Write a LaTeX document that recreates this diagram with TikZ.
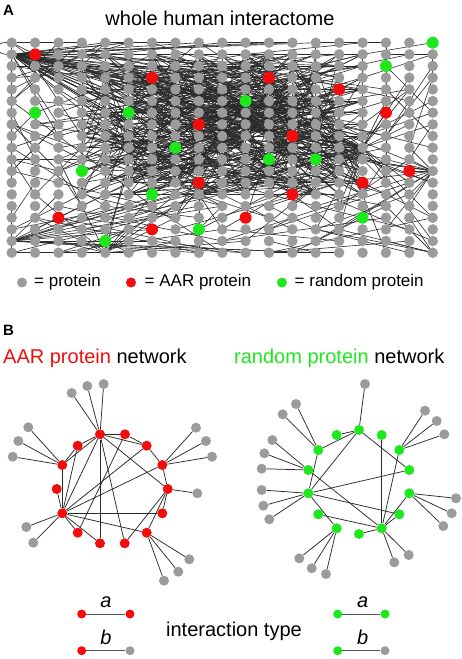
\documentclass[tikz,border=0pt]{standalone}
\usepackage{fontspec}
\setmainfont{Liberation Sans}
\usetikzlibrary{backgrounds}
\definecolor{cProt}{HTML}{9B9B9B}
\definecolor{cAAR}{HTML}{F20D0D}
\definecolor{cRand}{HTML}{1CE81C}
\definecolor{cEdge}{HTML}{2A2A2A}
\tikzset{
  node-prot/.style={circle,fill=cProt,inner sep=0pt,minimum size=10.5pt},
  node-aar/.style={circle,fill=cAAR,inner sep=0pt,minimum size=12pt},
  node-rand/.style={circle,fill=cRand,inner sep=0pt,minimum size=12pt},
  node-net/.style={circle,inner sep=0pt,minimum size=10pt},
  node-key/.style={circle,inner sep=0pt,minimum size=9pt},
  edge-ppi/.style={draw=cEdge,line width=0.6pt},
  edge-net/.style={draw=cEdge,line width=0.75pt},
  edge-key/.style={draw=cEdge!80,line width=0.9pt},
  label-big/.style={font=\fontsize{20}{24}\selectfont,inner sep=0pt},
  label-key/.style={font=\fontsize{17}{20}\selectfont,inner sep=0pt},
  label-panel/.style={font=\fontsize{15}{18}\selectfont\bfseries,inner sep=0pt},
}

\begin{document}
\begin{tikzpicture}[x=1pt,y=-1pt]
  \useasboundingbox (0,0) rectangle (461,659);

  % panel A: grid of the interactome
  \node[label-panel,anchor=base west] (labA) at (3,15) {A};
  \node[label-big,anchor=base] (titleA) at (220,25) {whole human interactome};
  \foreach \c in {0,...,18}
    \foreach \r in {0,...,18}
      \node[node-prot] (g-\c-\r) at ({11.7+23.39*\c},{42.7+11.667*\r}) {};
  \foreach \c/\r in {1/1,6/3,11/3,14/4,16/6,8/7,12/8,17/11,15/12,8/12,12/13,2/15,10/15,6/16}
    \node[node-aar] (aar-\c-\r) at (g-\c-\r) {};
  \foreach \c/\r in {18/0,16/2,10/5,1/6,5/6,7/9,11/10,13/10,3/11,6/13,15/15,8/16,4/17}
    \node[node-rand] (rnd-\c-\r) at (g-\c-\r) {};

  \pgfmathsetseed{4127}
  \begin{pgfonlayer}{background}
    % hubs
    \foreach \i in {1,...,52}{
      \pgfmathtruncatemacro{\cb}{random(2,16)}
      \pgfmathtruncatemacro{\rb}{random(0,9)}
      \draw[edge-ppi] (g-0-1.center) -- (g-\cb-\rb.center);
    }
    \foreach \i in {1,...,38}{
      \pgfmathtruncatemacro{\cb}{random(4,18)}
      \pgfmathtruncatemacro{\rb}{random(1,17)}
      \draw[edge-ppi] (g-15-9.center) -- (g-\cb-\rb.center);
    }
    \foreach \i in {1,...,14}{
      \pgfmathtruncatemacro{\cb}{random(11,17)}
      \pgfmathtruncatemacro{\rb}{random(4,18)}
      \draw[edge-ppi] (g-18-11.center) -- (g-\cb-\rb.center);
    }
    \foreach \i in {1,...,14}{
      \pgfmathtruncatemacro{\cb}{random(2,13)}
      \pgfmathtruncatemacro{\rb}{random(12,18)}
      \draw[edge-ppi] (g-0-17.center) -- (g-\cb-\rb.center);
    }
    \foreach \i in {1,...,12}{
      \pgfmathtruncatemacro{\cb}{random(1,11)}
      \pgfmathtruncatemacro{\rb}{random(9,17)}
      \draw[edge-ppi] (g-4-18.center) -- (g-\cb-\rb.center);
    }
    % dense core
    \foreach \i in {1,...,440}{
      \pgfmathtruncatemacro{\ca}{random(3,15)}
      \pgfmathtruncatemacro{\ra}{random(1,13)}
      \pgfmathtruncatemacro{\cb}{random(3,15)}
      \pgfmathtruncatemacro{\rb}{random(1,13)}
      \draw[edge-ppi] (g-\ca-\ra.center) -- (g-\cb-\rb.center);
    }
    % scattered edges
    \foreach \i in {1,...,200}{
      \pgfmathtruncatemacro{\ca}{random(0,18)}
      \pgfmathtruncatemacro{\ra}{random(0,18)}
      \pgfmathtruncatemacro{\cb}{max(0,min(18,\ca+random(-7,7)))}
      \pgfmathtruncatemacro{\rb}{max(0,min(18,\ra+random(-6,6)))}
      \draw[edge-ppi] (g-\ca-\ra.center) -- (g-\cb-\rb.center);
    }
    \draw[edge-ppi] (g-0-0.center) .. controls (-8,40) and (-8,56) .. (g-0-1.center);
  \end{pgfonlayer}

  % legend of panel A
  \node[node-prot,minimum size=10pt] (keyP) at (22,282.5) {};
  \node[label-key,anchor=west] (keyPt) at (34,282.5) {= protein};
  \node[node-aar,minimum size=10pt] (keyA) at (131,282.5) {};
  \node[label-key,anchor=west] (keyAt) at (144.5,282.5) {= AAR protein};
  \node[node-rand,minimum size=10pt] (keyR) at (282,282.5) {};
  \node[label-key,anchor=west] (keyRt) at (294.5,282.5) {= random protein};

  % panel B
  \node[label-panel,anchor=base west] (labB) at (3,335) {B};
  \node[label-big,anchor=base west] (titleL) at (3,363)
    {\textcolor{cAAR}{AAR protein} network};
  \node[label-big,anchor=base west] (titleR) at (234,363)
    {\textcolor{cRand}{random protein} network};

  % AAR network
  \foreach \n/\x/\y in {a1/100/434.3,a2/125/434.3,a3/146.7/445.7,a4/162.3/465,
      a5/167.7/489,a6/162.3/513.3,a7/146.7/532.7,a8/124.7/543.3,a9/100/543.3,
      a10/77.7/532.7,a11/62.3/513.3,a12/56.7/489,a13/62.3/465,a14/77.7/445.7}
    \node[node-net,fill=cAAR] (\n) at (\x,\y) {};
  \foreach \n/\x/\y in {ap1/71.7/393,ap2/87.3/386,ap3/103.7/384,
      ap4/28.3/427.3,ap5/18.3/441,ap6/12.7/456.7,
      ap7/196/427.7,ap8/206/441,ap9/212/456.7,ap10/197.3/493.3,
      ap11/26.3/527,ap12/33.3/542.7,
      ap13/189.3/559.3,ap14/178.3/571.7,ap15/164/580.7}
    \node[node-net,fill=cProt] (\n) at (\x,\y) {};
  \begin{pgfonlayer}{background}
    \foreach \u/\v in {a1/ap1,a1/ap2,a1/ap3,a13/ap4,a13/ap5,a13/ap6,
        a4/ap7,a4/ap8,a4/ap9,a5/ap10,a11/ap11,a11/ap12,a7/ap13,a7/ap14,a7/ap15,
        a1/a2,a1/a3,a1/a14,a1/a13,a1/a11,a1/a9,a1/a8,a1/a5,a2/a3,a2/a10,
        a3/a4,a4/a5,a5/a6,a5/a7,a5/a8,a3/a11,a4/a11,a6/a11,a7/a11,
        a11/a10,a11/a9,a11/a12,a11/a13,a13/a14,a14/a11}
      \draw[edge-net] (\u) -- (\v);
  \end{pgfonlayer}

  % random network
  \foreach \n/\x/\y in {r1/359/430,r2/336.7/435,r3/381.7/435,r4/318.3/450,
      r5/399.3/450,r6/308.3/470,r7/409.3/470,r8/308.3/493.3,r9/409.3/493.3,
      r10/318.3/514.3,r11/399.3/514.3,r12/336.7/528.3,r13/381.7/528.3,r14/359/534}
    \node[node-net,fill=cRand] (\n) at (\x,\y) {};
  \foreach \n/\x/\y in {rp1/365/384,rp2/296/404,rp3/282.7/414.3,
      rp4/272.3/440,rp5/264.3/453.3,rp6/261.7/468.7,
      rp7/261.7/490,rp8/263.3/505.7,rp9/269.3/519.3,
      rp10/425/410.7,rp11/436.7/421,rp12/444.3/434.3,
      rp13/456/498.3,rp14/451.7/513.3,rp15/443.3/526,
      rp16/299.3/558.3,rp17/311.7/568.3,rp18/326/574,
      rp19/394.3/562.3,rp20/408.7/555}
    \node[node-net,fill=cProt] (\n) at (\x,\y) {};
  \begin{pgfonlayer}{background}
    \foreach \u/\v in {r1/rp1,r4/rp2,r4/rp3,r6/rp4,r6/rp5,r6/rp6,
        r8/rp7,r8/rp8,r8/rp9,r5/rp10,r5/rp11,r5/rp12,r9/rp13,r9/rp14,r9/rp15,
        r12/rp16,r12/rp17,r12/rp18,r13/rp19,r13/rp20,
        r1/r2,r1/r4,r1/r8,r1/r7,r3/r13,r5/r13,r4/r8,r6/r13,r8/r7,r8/r11,
        r8/r12,r10/r13,r13/r14,r13/r11,r13/r9}
      \draw[edge-net] (\u) -- (\v);
  \end{pgfonlayer}

  % interaction types
  \node[node-key,fill=cAAR] (ka1) at (81.7,614) {};
  \node[node-key,fill=cAAR] (ka2) at (130,614) {};
  \node[node-key,fill=cAAR] (kb1) at (81.7,650.7) {};
  \node[node-key,fill=cProt] (kb2) at (130,650.7) {};
  \node[node-key,fill=cRand] (kc1) at (337.7,614) {};
  \node[node-key,fill=cRand] (kc2) at (385,614) {};
  \node[node-key,fill=cRand] (kd1) at (337.7,650.7) {};
  \node[node-key,fill=cProt] (kd2) at (385,650.7) {};
  \begin{pgfonlayer}{background}
    \foreach \u/\v in {ka1/ka2,kb1/kb2,kc1/kc2,kd1/kd2}
      \draw[edge-key] (\u) -- (\v);
  \end{pgfonlayer}
  \node[label-big,anchor=base] (ta) at (106,607.3) {\itshape a};
  \node[label-big,anchor=base] (tb) at (106,644.3) {\itshape b};
  \node[label-big,anchor=base] (tc) at (362.7,607.3) {\itshape a};
  \node[label-big,anchor=base] (td) at (362.7,644.3) {\itshape b};
  \node[label-big,anchor=base] (itype) at (234,636) {interaction type};
\end{tikzpicture}
\end{document}
